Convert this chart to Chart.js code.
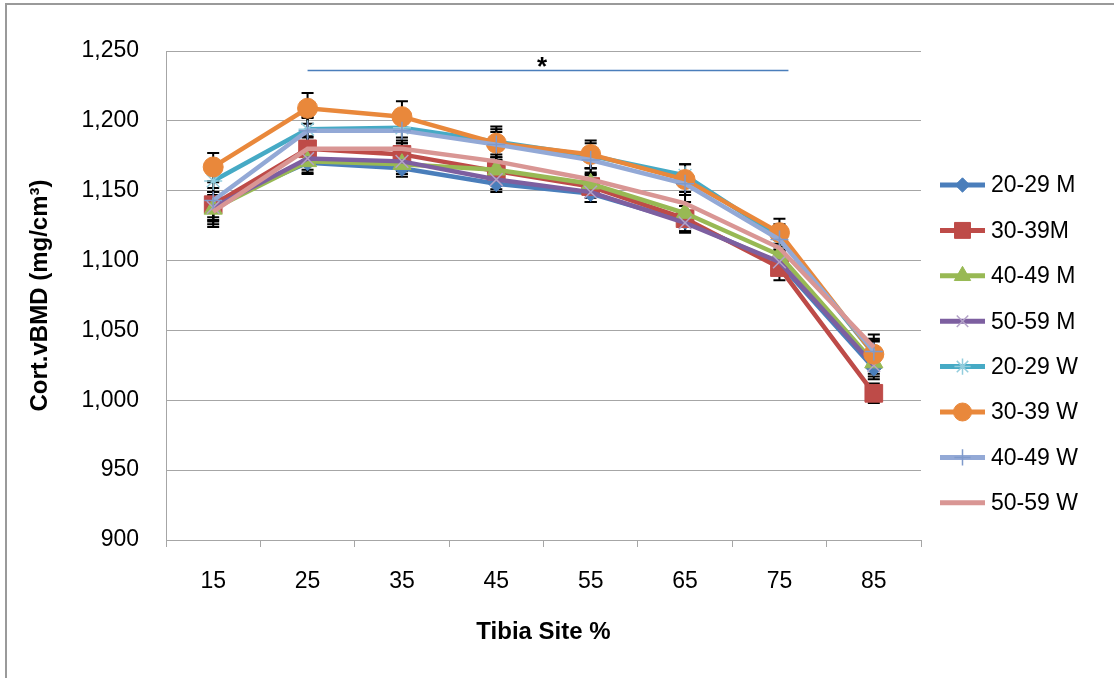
<!DOCTYPE html>
<html>
<head>
<meta charset="utf-8">
<script src="https://cdn.jsdelivr.net/npm/chart.js@4.4.1/dist/chart.umd.min.js"></script>
<style>
    body { margin: 0; background: #fff; }
    #wrap { width: 1114px; height: 678px; }
</style>
</head>
<body>
<div id="wrap"><canvas id="myChart" width="1114" height="678"></canvas></div>
<script>
// tibia sites (x categories)
const sites = ['15', '25', '35', '45', '55', '65', '75', '85'];

// mean cortical vBMD per group
const m2029 = [1140, 1170, 1166, 1155, 1148, 1128, 1098, 1023];
const m3039 = [1140, 1180, 1176, 1164, 1153, 1130, 1095, 1005];
const m4049 = [1137, 1171, 1169, 1165, 1155, 1134, 1104, 1027];
const m5059 = [1138, 1173, 1171, 1158, 1149, 1127, 1099, 1025];
const w2029 = [1157, 1194, 1195, 1185, 1175, 1161, 1117, 1033];
const w3039 = [1167, 1209, 1203, 1184, 1176, 1158, 1120, 1033];
const w4049 = [1143, 1193, 1193, 1183, 1172, 1155, 1115, 1035];
const w5059 = [1135, 1180, 1180, 1171, 1158, 1141, 1109, 1038];

// error bar half-lengths (approx.)
const e_m2029 = [9, 8, 6, 6, 6, 7, 8, 8];
const e_m3039 = [16, 9, 8, 10, 8, 9, 9, 7];
const e_m4049 = [9, 8, 7, 7, 7, 8, 8, 8];
const e_m5059 = [9, 8, 7, 7, 7, 7, 8, 8];
const e_w2029 = [8, 9, 9, 9, 9, 8, 9, 9];
const e_w3039 = [10, 11, 11, 12, 10, 11, 10, 10];
const e_w4049 = [9, 9, 9, 9, 9, 8, 8, 9];
const e_w5059 = [9, 8, 8, 8, 8, 8, 8, 9];

const groupNames = ['20-29 M', '30-39M', '40-49 M', '50-59 M', '20-29 W', '30-39 W', '40-49 W', '50-59 W'];

// significance bar: from site 25 to 75
const sigFrom = '25';
const sigTo = '75';
const sigLevel = 1236;

const yTicks = [900, 950, 1000, 1050, 1100, 1150, 1200, 1250];

const seriesStyle = [
    {color: '#4A7EBB', marker: '#4A7EBB', style: 'rectRot', r: 8},
    {color: '#BE4B48', marker: '#BE4B48', style: 'rect', r: 12.5},
    {color: '#98B954', marker: '#98B954', style: 'triangle', r: 10.5},
    {color: '#7D5FA0', marker: '#B3A2C7', style: 'crossRot', r: 9},
    {color: '#46AAC5', marker: '#93CDDD', style: 'star', r: 9},
    {color: '#E9883B', marker: '#E9883B', style: 'circle', r: 10},
    {color: '#93A9D6', marker: '#7F9ACB', style: 'cross', r: 9},
    {color: '#D99694', marker: '#D99694', style: false, r: 0}
];

const allValues = [m2029, m3039, m4049, m5059, w2029, w3039, w4049, w5059];
const allErrors = [e_m2029, e_m3039, e_m4049, e_m5059, e_w2029, e_w3039, e_w4049, e_w5059];

const baseFont = "'Liberation Sans', Arial, sans-serif";

const datasets = allValues.map((vals, i) => {
    const s = seriesStyle[i];
    const stroked = ['crossRot', 'star', 'cross'].includes(s.style);
    return {
        label: groupNames[i],
        data: vals,
        errors: allErrors[i],
        borderColor: s.color,
        backgroundColor: s.marker,
        borderWidth: 4.5,
        pointStyle: s.style,
        pointRadius: s.r,
        pointBackgroundColor: s.marker,
        pointBorderColor: s.marker,
        pointBorderWidth: stroked ? 1.5 : 1,
        tension: 0,
        order: allValues.length - i
    };
});

const framePlugin = {
    id: 'frame',
    beforeDraw(chart) {
        const c = chart.ctx;
        c.save();
        c.fillStyle = '#fff';
        c.fillRect(0, 0, chart.width, chart.height);
        c.strokeStyle = '#9A9A9A';
        c.lineWidth = 2;
        c.beginPath();
        c.moveTo(6, chart.height);
        c.lineTo(6, 4);
        c.lineTo(chart.width, 4);
        c.stroke();
        c.restore();
    }
};

// error bars go under all the lines
const errorBarPlugin = {
    id: 'errorBars',
    beforeDatasetsDraw(chart) {
        const yScale = chart.scales.y;
        const c = chart.ctx;
        c.save();
        c.strokeStyle = '#000';
        c.lineWidth = 2;
        chart.data.datasets.forEach((ds, i) => {
            const meta = chart.getDatasetMeta(i);
            meta.data.forEach((pt, j) => {
                const v = ds.data[j], e = ds.errors[j];
                const yt = yScale.getPixelForValue(v + e);
                const yb = yScale.getPixelForValue(v - e);
                c.beginPath();
                c.moveTo(pt.x, yt);
                c.lineTo(pt.x, yb);
                c.moveTo(pt.x - 6, yt);
                c.lineTo(pt.x + 6, yt);
                c.moveTo(pt.x - 6, yb);
                c.lineTo(pt.x + 6, yb);
                c.stroke();
            });
        });
        c.restore();
    }
};

const sigPlugin = {
    id: 'sigBar',
    afterDatasetsDraw(chart) {
        const x = chart.scales.x, y = chart.scales.y;
        const c = chart.ctx;
        const x1 = x.getPixelForValue(sites.indexOf(sigFrom));
        const x2 = x.getPixelForValue(sites.indexOf(sigTo)) + 9;
        const yy = y.getPixelForValue(sigLevel);
        c.save();
        c.strokeStyle = '#4A7EBB';
        c.lineWidth = 1.5;
        c.beginPath();
        c.moveTo(x1, yy);
        c.lineTo(x2, yy);
        c.stroke();
        c.fillStyle = '#000';
        c.font = "bold 26px " + baseFont;
        c.textAlign = 'center';
        c.textBaseline = 'middle';
        c.fillText('*', (x1 + x2) / 2 - 6, yy - 3);
        c.restore();
    }
};

const legendPlugin = {
    id: 'sideLegend',
    afterDraw(chart) {
        const c = chart.ctx;
        c.save();
        chart.data.datasets.forEach((ds, i) => {
            const s = seriesStyle[i];
            const y = 185 + i * 45.4;
            c.strokeStyle = s.color;
            c.lineWidth = 5;
            c.beginPath();
            c.moveTo(940, y);
            c.lineTo(985, y);
            c.stroke();
            if (s.style && Chart.helpers && Chart.helpers.drawPoint) {
                c.fillStyle = s.marker;
                c.strokeStyle = s.marker;
                c.lineWidth = ds.pointBorderWidth;
                Chart.helpers.drawPoint(c, {
                    pointStyle: s.style,
                    radius: s.r * 0.9,
                    rotation: 0,
                    borderWidth: ds.pointBorderWidth
                }, 962.5, y);
            }
            c.fillStyle = '#000';
            c.font = "23px " + baseFont;
            c.textAlign = 'left';
            c.textBaseline = 'middle';
            c.fillText(ds.label, 991, y + 1);
        });
        c.restore();
    }
};

const ctx = document.getElementById('myChart');

myChart = new Chart(ctx, {
    type: 'line',
    data: {
        labels: sites,
        datasets: datasets
    },
    plugins: [framePlugin, errorBarPlugin, sigPlugin, legendPlugin],
    options: {
        responsive: false,
        animation: false,
        layout: {
            padding: {left: 0, right: 193, top: 51, bottom: 0}
        },
        plugins: {
            legend: {display: false},
            tooltip: {enabled: false}
        },
        scales: {
            x: {
                type: 'category',
                offset: true,
                grid: {
                    offset: true,
                    drawOnChartArea: false,
                    drawTicks: true,
                    tickLength: 7,
                    color: '#A6A6A6'
                },
                border: {color: '#A6A6A6', width: 1},
                ticks: {
                    padding: 21,
                    maxRotation: 0,
                    color: '#000',
                    font: {family: baseFont, size: 23}
                },
                title: {
                    display: true,
                    text: 'Tibia Site %',
                    color: '#000',
                    font: {family: baseFont, size: 24, weight: 'bold'},
                    padding: {top: 0, bottom: 31}
                },
                afterFit: (scale) => { scale.height = 138; }
            },
            y: {
                min: yTicks[0],
                max: yTicks[yTicks.length - 1],
                afterBuildTicks: (scale) => { scale.ticks = yTicks.map(v => ({value: v})); },
                grid: {
                    color: '#A6A6A6',
                    drawTicks: false
                },
                border: {display: true, color: '#A6A6A6', width: 1},
                ticks: {
                    padding: 27,
                    color: '#000',
                    font: {family: baseFont, size: 23},
                    callback: (v) => v.toLocaleString('en-US')
                },
                title: {
                    display: true,
                    text: 'Cort.vBMD (mg/cm³)',
                    color: '#000',
                    font: {family: baseFont, size: 24, weight: 'bold'},
                    padding: {top: 26, bottom: 0}
                },
                afterFit: (scale) => { scale.width = 166; }
            }
        }
    }
});
</script>
</body>
</html>
